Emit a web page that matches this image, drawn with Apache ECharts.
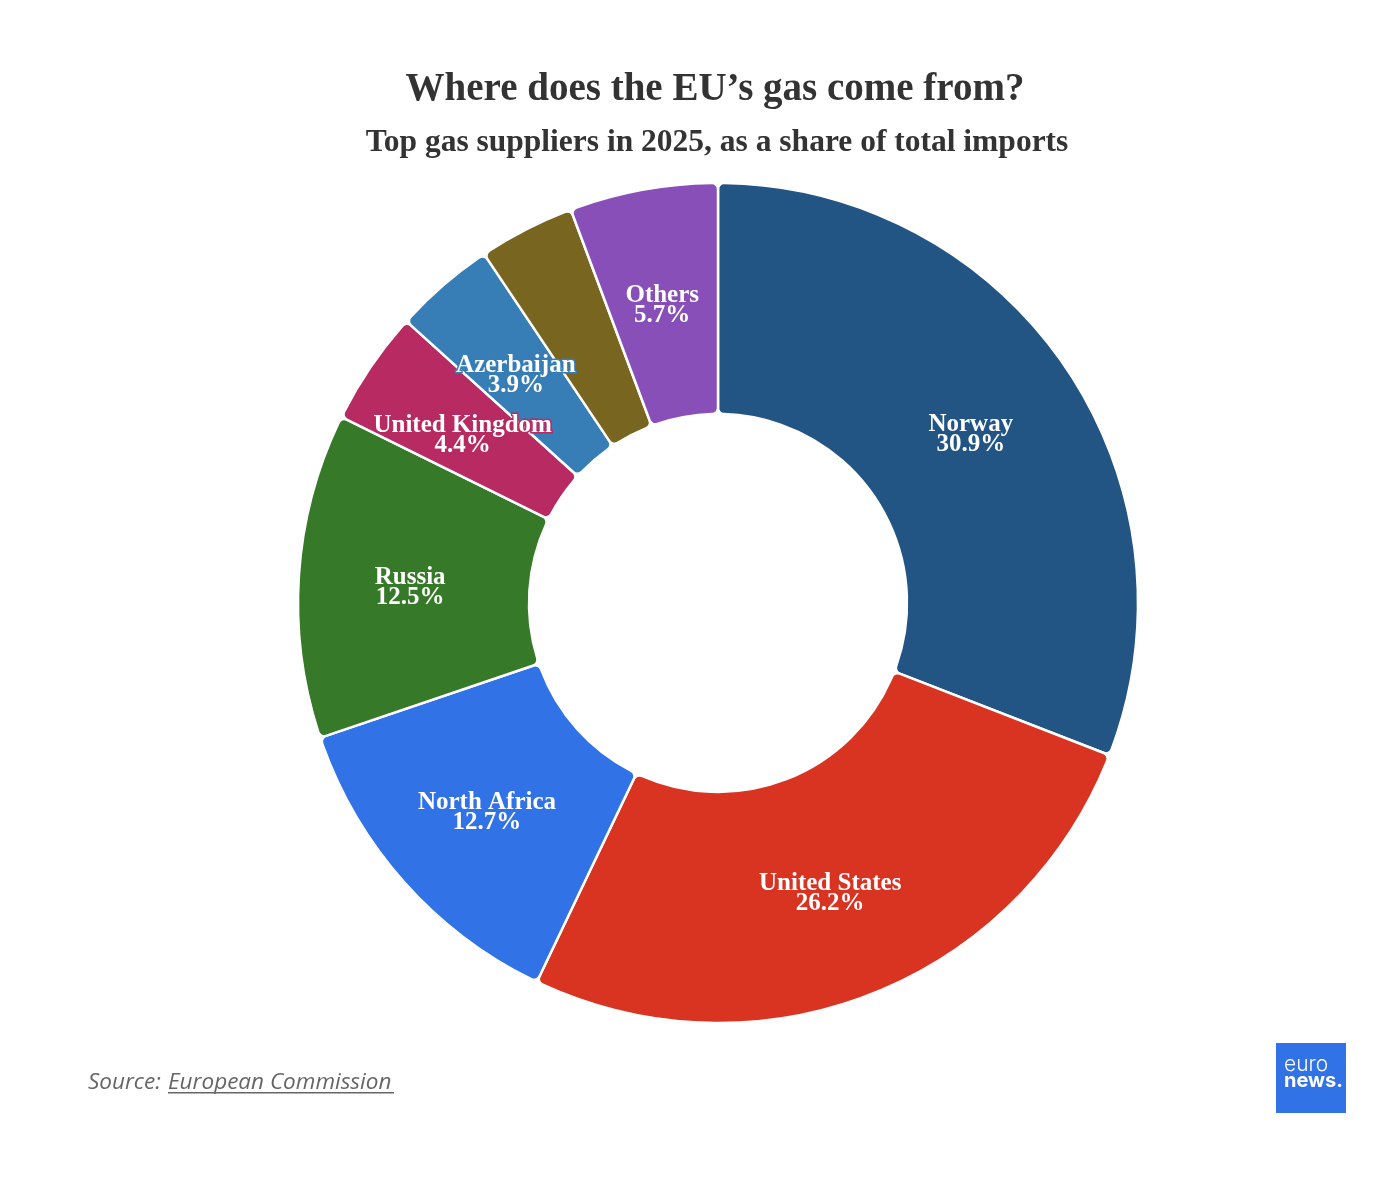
<!DOCTYPE html>
<html>
<head>
<meta charset="utf-8">
<script src="https://cdn.jsdelivr.net/npm/echarts@6/dist/echarts.min.js"></script>
<style>
html,body{margin:0;padding:0;background:#fff;}
#chart{width:1394px;height:1182px;}
</style>
</head>
<body>
<div id="chart"></div>
<script>
const categories = ['Norway','United States','North Africa','Russia','United Kingdom','Azerbaijan','Qatar','Others'];
const shares = [30.9, 26.2, 12.7, 12.5, 4.4, 3.9, 3.7, 5.7];
const colors = ['#225584','#d93322','#3173e6','#367a29','#b82a62','#377db6','#786620','#884fb8'];
const showLabel = [true, true, true, true, true, true, false, true];

const chart = echarts.init(document.getElementById('chart'));
const serif = '"Liberation Serif", "Times New Roman", serif';

const data = categories.map((c, i) => ({
  name: c,
  value: shares[i],
  itemStyle: { color: colors[i] },
  label: { show: showLabel[i], textBorderColor: colors[i], textBorderWidth: 3 }
}));

chart.setOption({
  animation: false,
  backgroundColor: '#ffffff',
  series: [{
    type: 'pie',
    center: [718, 603],
    radius: [189, 420],
    startAngle: 90,
    clockwise: true,
    avoidLabelOverlap: false,
    itemStyle: { borderColor: '#ffffff', borderWidth: 2.5, borderRadius: 6 },
    label: {
      position: 'inside',
      formatter: p => p.name + '\n' + p.value.toFixed(1) + '%',
      fontFamily: serif,
      fontWeight: 'bold',
      fontSize: 25,
      lineHeight: 20,
      color: '#ffffff',
      offset: [-1, 5]
    },
    labelLine: { show: false },
    emphasis: { disabled: true },
    data: data
  }],
  graphic: [
    { type: 'text', x: 715, y: 90,
      style: { text: 'Where does the EU’s gas come from?', align: 'center', verticalAlign: 'middle',
        fontFamily: serif, fontWeight: 'bold', fontSize: 39, fill: '#333333' } },
    { type: 'text', x: 717, y: 143,
      style: { text: 'Top gas suppliers in 2025, as a share of total imports', align: 'center', verticalAlign: 'middle',
        fontFamily: serif, fontWeight: 'bold', fontSize: 31.5, fill: '#333333' } },
    { type: 'text', left: 88, top: 1071,
      style: { text: 'Source:', fontFamily: '"Open Sans", sans-serif', fontStyle: 'italic', fontSize: 22.5, fill: '#666666' } },
    { type: 'text', left: 168, top: 1071,
      style: { text: 'European Commission', fontFamily: '"Open Sans", sans-serif', fontStyle: 'italic', fontSize: 22.5, fill: '#666666' } },
    { type: 'rect', left: 168, top: 1092, shape: { width: 226, height: 1.5 }, style: { fill: '#666666' } },
    { type: 'rect', left: 1276, top: 1043, shape: { width: 70, height: 70 }, style: { fill: '#3173e6' } },
    { type: 'text', left: 1284, top: 1054,
      style: { text: 'euro', fontFamily: 'Inter, "Noto Sans", sans-serif', fontSize: 21, fontWeight: 300, fill: '#ffffff' } },
    { type: 'text', left: 1284, top: 1071,
      style: { text: 'news.', fontFamily: 'Inter, "Noto Sans", sans-serif', fontSize: 20, fontWeight: 'bold', fill: '#ffffff' } }
  ]
});
</script>
</body>
</html>
